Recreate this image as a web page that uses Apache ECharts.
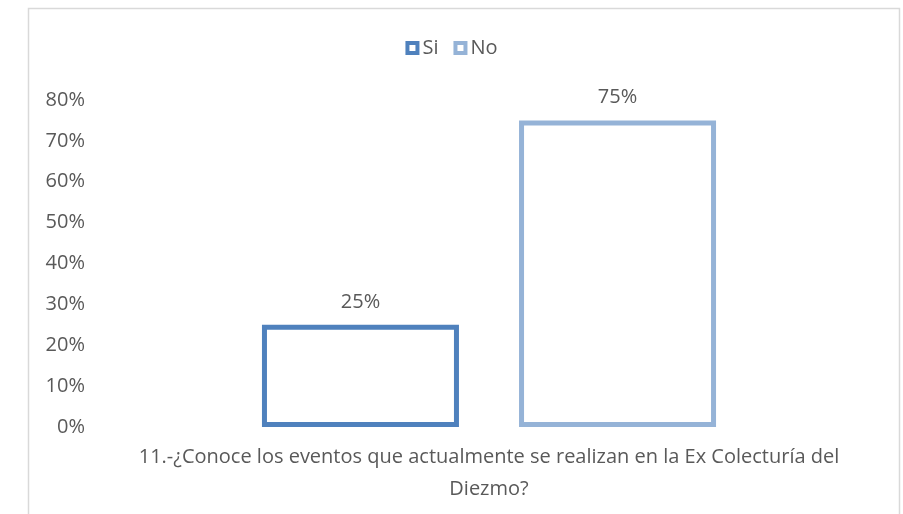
<!DOCTYPE html>
<html><head><meta charset="utf-8">
<script src="https://cdn.jsdelivr.net/npm/echarts@6/dist/echarts.min.js"></script>
<style>html,body{margin:0;padding:0;background:#fff}#c{width:903px;height:514px}</style>
</head><body><div id="c"></div>
<script>
const categories = ['11.-¿Conoce los eventos que actualmente se realizan en la Ex Colecturía del\nDiezmo?'];
const seriesNames = ['Si', 'No'];
const siValues = [0.25];
const noValues = [0.75];
const colors = ['#4f81bd', '#95b3d7'];
const font = 'Open Sans';
const fs = 20;
const chart = echarts.init(document.getElementById('c'));
const fmt = v => Math.round(v * 100) + '%';
chart.setOption({
  animation: false,
  graphic: [{type:'rect', shape:{x:28.5, y:8.5, width:871, height:520}, style:{fill:'none', stroke:'#d9d9d9', lineWidth:1.5}, silent:true}],
  legend: {top: 33, left: 'center', icon: 'rect', itemWidth: 10, itemHeight: 10, itemGap: 15,
    itemStyle: {borderWidth: 4, color: '#fff'},
    textStyle: {fontFamily: font, fontSize: fs, color: '#595959', padding: [0, 0, 0, 0]}, data: seriesNames},
  grid: {left: 98, right: 23, top: 100, bottom: 87},
  xAxis: {type: 'category', data: categories,
    axisLine: {show: false}, axisTick: {show: false},
    axisLabel: {fontFamily: font, fontSize: fs, color: '#595959', margin: 14, lineHeight: 32}},
  yAxis: {type: 'value', min: 0, max: 0.8, interval: 0.1,
    axisLine: {show: false}, axisTick: {show: false}, splitLine: {show: false},
    axisLabel: {formatter: fmt, fontFamily: font, fontSize: fs, color: '#595959', margin: 13}},
  series: [
    {name: seriesNames[0], type: 'bar', data: siValues, barWidth: 197, barGap: '30.5%',
      itemStyle: {color: '#fff', borderColor: colors[0], borderWidth: 5},
      label: {show: true, position: 'top', distance: 13, formatter: p => fmt(p.value),
        fontFamily: font, fontSize: fs, color: '#595959'}},
    {name: seriesNames[1], type: 'bar', data: noValues, barWidth: 197,
      itemStyle: {color: '#fff', borderColor: colors[1], borderWidth: 5},
      label: {show: true, position: 'top', distance: 13, formatter: p => fmt(p.value),
        fontFamily: font, fontSize: fs, color: '#595959'}}
  ]
});
</script></body></html>
